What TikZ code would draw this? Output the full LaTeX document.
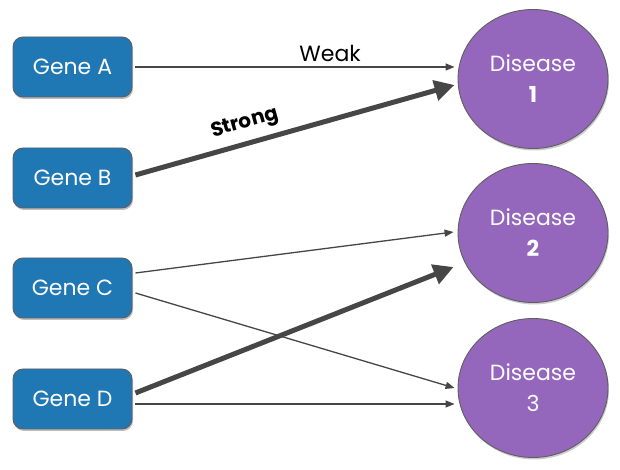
\documentclass[tikz,border=0pt]{standalone}
\usepackage{fontspec}
\setmainfont{Poppins}
\usetikzlibrary{arrows.meta,shapes.geometric,shadows,calc}
\definecolor{geneblue}{RGB}{31,119,180}
\definecolor{dispurple}{RGB}{148,103,189}
\definecolor{edgegray}{RGB}{70,70,70}
\definecolor{rimgray}{RGB}{95,95,95}
\begin{document}
\begin{tikzpicture}[x=1pt,y=1pt,
  gene/.style={draw=rimgray,line width=0.9pt,fill=geneblue,rounded corners=10pt,
    minimum width=119pt,minimum height=60pt,inner sep=0pt,text=white,
    font=\fontsize{22}{26}\selectfont,
    drop shadow={shadow xshift=1pt,shadow yshift=-2pt,opacity=0.25,fill=black}},
  disease/.style={ellipse,draw=rimgray,line width=0.9pt,fill=dispurple,
    minimum width=150pt,minimum height=139pt,inner sep=0pt,text=white,
    align=center,font=\fontsize{22}{31}\selectfont,
    drop shadow={shadow xshift=1pt,shadow yshift=-2pt,opacity=0.2,fill=black}},
  weaklink/.style={draw=edgegray,line width=1.3pt,
    -{Triangle[length=9pt,width=7pt]}},
  stronglink/.style={draw=edgegray,line width=5pt,
    -{Triangle[length=20pt,width=20pt]}},
  lbl/.style={font=\fontsize{22}{24}\selectfont}]
\useasboundingbox (0,0) rectangle (620,470);

% genes
\node[gene] (ga) at (72.5,403) {Gene A};
\node[gene] (gb) at (72.5,292) {Gene B};
\node[gene] (gc) at (72.5,182) {Gene C};
\node[gene] (gd) at (72.5,71) {Gene D};

% diseases
\node[disease] (d1) at (533,391) {Disease\\\textbf{1}};
\node[disease] (d2) at (533,237) {Disease\\\textbf{2}};
\node[disease] (d3) at (533,82) {Disease\\3};

% links
\draw[weaklink] ([xshift=3pt]ga.east) -- ($(d1.west)+(-3,12)$)
  node[lbl,pos=0.61,above=1pt] (wk) {Weak};
\draw[stronglink] ($(gb.east)+(3,3)$) -- ($(d1.west)+(-3,-6)$)
  node[pos=0.36,above=4pt,sloped,font=\bfseries\fontsize{20}{22}\selectfont] (st) {Strong};
\draw[weaklink] ($(gc.east)+(3,15)$) -- ($(d2.west)+(-4,1)$);
\draw[weaklink] ($(gc.east)+(3,-5)$) -- ($(d3.west)+(-3,0)$);
\draw[stronglink] ($(gd.east)+(3,6)$) -- ($(d2.west)+(-4,-34)$);
\draw[weaklink] ($(gd.east)+(3,-5)$) -- ($(d3.west)+(-3,-16)$);
\end{tikzpicture}
\end{document}
